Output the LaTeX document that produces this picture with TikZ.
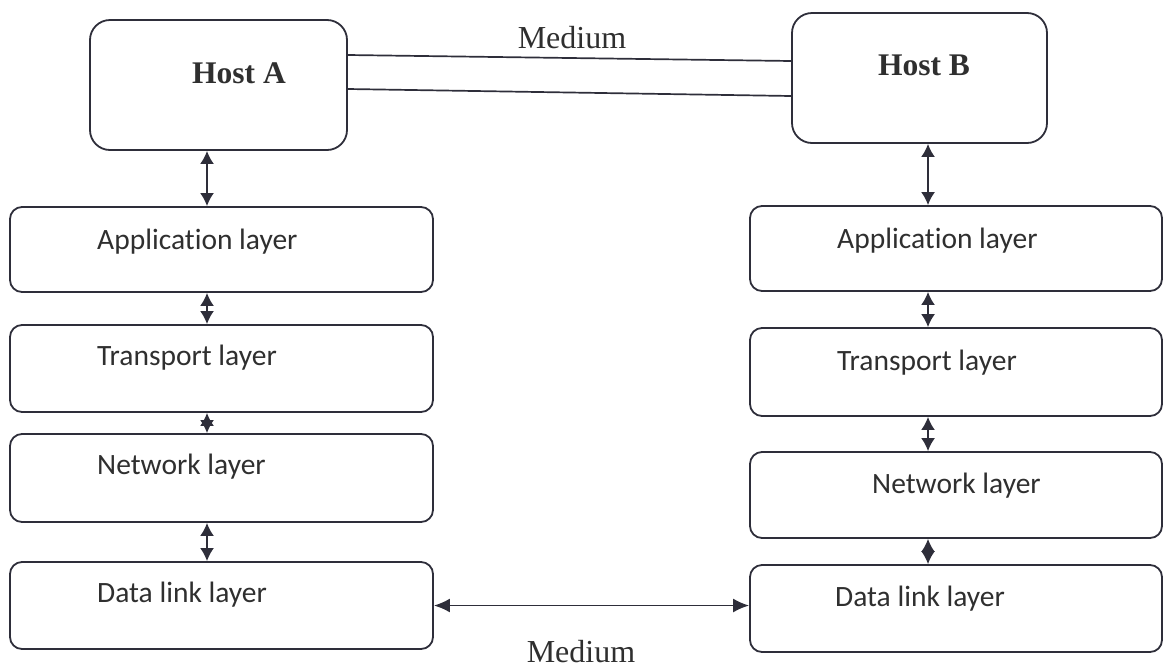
\documentclass[tikz,border=0pt]{standalone}
\usepackage{fontspec}
\setmainfont{Liberation Serif}
\newfontfamily\layerfont[Ligatures=NoCommon]{Carlito}
\usetikzlibrary{arrows.meta}
\definecolor{ink}{HTML}{2E2E3A}
\definecolor{txt}{HTML}{2F2F2F}
\tikzset{
  hostbox/.style={draw=ink, line width=1.8pt, rounded corners=20pt, inner sep=0pt},
  layerbox/.style={draw=ink, line width=1.8pt, rounded corners=12pt, inner sep=0pt},
  layertext/.style={anchor=west, inner sep=0pt, text=txt, font=\layerfont\fontsize{29.5}{32}\selectfont},
  hosttext/.style={inner sep=0pt, text=txt, font=\bfseries\fontsize{31.5}{34}\selectfont},
  medtext/.style={inner sep=0pt, text=txt, font=\fontsize{32}{34}\selectfont},
  link/.style={draw=ink, line width=1.7pt},
  dar/.style={draw=ink, line width=1.8pt, {Latex[length=13pt,width=14pt]}-{Latex[length=13pt,width=14pt]}},
}
\begin{document}
\begin{tikzpicture}[x=1pt, y=-1pt]
  \useasboundingbox (0,0) rectangle (1164,670);

  % hosts
  \node[hostbox, minimum width=257pt, minimum height=130pt] (hostA) at (218.5,85) {};
  \node[hostbox, minimum width=255pt, minimum height=130pt] (hostB) at (919.5,78) {};
  \node[hosttext] (hostAtext) at (239,73) {Host A};
  \node[hosttext] (hostBtext) at (924,65) {Host B};

  % medium between hosts
  \draw[link] ([yshift=30pt]hostA.east) -- ([yshift=17pt]hostB.west);
  \draw[link] ([yshift=-4pt]hostA.east) -- ([yshift=-18pt]hostB.west);
  \node[medtext] (medTop) at (572,38) {Medium};

  % left stack
  \node[layerbox, minimum width=423pt, minimum height=85pt] (appL) at (221.5,249.5) {};
  \node[layerbox, minimum width=423pt, minimum height=87pt] (traL) at (221.5,368.5) {};
  \node[layerbox, minimum width=423pt, minimum height=88pt] (netL) at (221.5,478) {};
  \node[layerbox, minimum width=423pt, minimum height=87pt] (datL) at (221.5,605.5) {};
  \node[layertext] (appLt) at (97,242) {Application layer};
  \node[layertext] (traLt) at (97,358) {Transport layer};
  \node[layertext] (netLt) at (97,467) {Network layer};
  \node[layertext] (datLt) at (97,595) {Data link layer};

  % right stack
  \node[layerbox, minimum width=412pt, minimum height=85pt] (appR) at (956,248.5) {};
  \node[layerbox, minimum width=412pt, minimum height=88pt] (traR) at (956,372) {};
  \node[layerbox, minimum width=412pt, minimum height=86pt] (netR) at (956,495) {};
  \node[layerbox, minimum width=412pt, minimum height=87pt] (datR) at (956,608.5) {};
  \node[layertext] (appRt) at (837,241) {Application layer};
  \node[layertext] (traRt) at (837,363) {Transport layer};
  \node[layertext] (netRt) at (872,486) {Network layer};
  \node[layertext] (datRt) at (835,599) {Data link layer};

  % vertical interfaces
  \coordinate (colA) at (207,0);
  \coordinate (colB) at (928,0);
  \draw[dar] (hostA.south -| colA) -- (appL.north -| colA);
  \draw[dar] (appL.south -| colA) -- (traL.north -| colA);
  \draw[dar] (traL.south -| colA) -- (netL.north -| colA);
  \draw[dar] (netL.south -| colA) -- (datL.north -| colA);
  \draw[dar] (hostB.south -| colB) -- (appR.north -| colB);
  \draw[dar] (appR.south -| colB) -- (traR.north -| colB);
  \draw[dar] (traR.south -| colB) -- (netR.north -| colB);
  \draw[dar] (netR.south -| colB) -- (datR.north -| colB);

  % physical medium
  \draw[dar, {Latex[length=16pt,width=14pt]}-{Latex[length=16pt,width=14pt]}] (datL.east) -- (datL.east -| datR.west);
  \node[medtext] (medBot) at (581,652) {Medium};
\end{tikzpicture}
\end{document}
